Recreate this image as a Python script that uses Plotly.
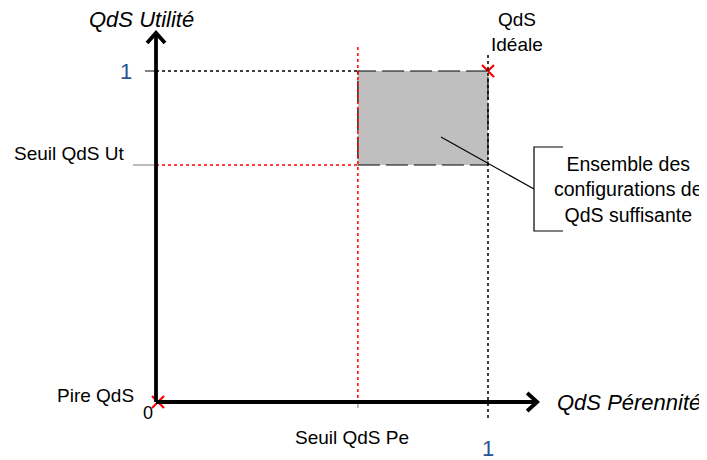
import plotly.graph_objects as go

# --- diagram values (normalised QoS space) ---
seuil_pe = [0.608]          # threshold on "Pérennité" axis
seuil_ut = [0.716]          # threshold on "Utilité" axis
ideal_pt = [1.0, 1.0]       # ideal QoS
worst_pt = [0.0, 0.0]       # worst QoS
axis_len_x = [1.148]
axis_len_y = [1.115]

W, H = 707, 460
OFF = 8                    # page body margin offset
X0, Y0 = 156, 402          # origin pixel (reference)
SX, SY = 332, 331          # px per unit

def X(px):
    return (px - X0) / SX

def Y(py):
    return (Y0 - py) / SY

sp, su = seuil_pe[0], seuil_ut[0]
ax_x, ax_y = axis_len_x[0], axis_len_y[0]

BLUE = "#2A5595"
FONT = "Liberation Sans, Arial, sans-serif"

fig = go.Figure()
shapes = []

def line(x0, y0, x1, y1, color="black", width=1.5, dash="solid"):
    shapes.append(dict(type="line", x0=x0, y0=y0, x1=x1, y1=y1, xref="x", yref="y",
                       line=dict(color=color, width=width, dash=dash)))

# sufficient-QoS rectangle
shapes.append(dict(type="rect", x0=sp, x1=ideal_pt[0], y0=su, y1=ideal_pt[1],
                   xref="x", yref="y", fillcolor="#BFBFBF",
                   line=dict(color="black", width=1.2, dash="22px,6px")))

# guide lines
line(0, ideal_pt[1], sp, ideal_pt[1], "black", 1.5, "dot")
line(ideal_pt[0], Y(55), ideal_pt[0], Y(418), "black", 1.5, "dot")
line(sp, Y(47), sp, 0, "red", 1.5, "dot")
line(0, su, sp, su, "red", 1.5, "dot")

# tick marks
line(X(145), ideal_pt[1], 0, ideal_pt[1], "#404040", 1.3)
line(X(133), su, 0, su, "#A6A6A6", 1.5)
line(sp, 0, sp, Y(408), "#A6A6A6", 1.5)

# leader line + bracket
line(X(441), Y(137), X(534), Y(189), "black", 1.2)
shapes.append(dict(type="path", xref="x", yref="y",
                   path=f"M {X(563)},{Y(147)} L {X(534)},{Y(147)} L {X(534)},{Y(231)} L {X(563)},{Y(231)}",
                   line=dict(color="black", width=1.2)))

# axes
line(0, 0, 0, ax_y, "black", 3.8)
line(0, 0, ax_x, 0, "black", 3.8)

fig.update_layout(shapes=shapes)

# arrow heads (open chevrons)
dx, dy = 9 / SX, 10 / SY
fig.add_trace(go.Scatter(x=[-dx, 0, dx], y=[ax_y - dy, ax_y, ax_y - dy], mode="lines",
                         line=dict(color="black", width=3.8), hoverinfo="skip", showlegend=False))
fig.add_trace(go.Scatter(x=[ax_x - 10 / SX, ax_x, ax_x - 10 / SX], y=[9 / SY, 0, -9 / SY], mode="lines",
                         line=dict(color="black", width=3.8), hoverinfo="skip", showlegend=False))

# red crosses
fig.add_trace(go.Scatter(x=[ideal_pt[0], worst_pt[0] + 2 / SX], y=[ideal_pt[1], worst_pt[1]],
                         mode="markers",
                         marker=dict(symbol="x-thin", size=12, line=dict(color="red", width=2.2)),
                         hoverinfo="skip", showlegend=False))

def txt(x, y, s, size=20, color="black", italic=False, xa="center", ya="middle"):
    fig.add_annotation(x=x, y=y, xref="x", yref="y", text=s, showarrow=False,
                       xanchor=xa, yanchor=ya, align="center",
                       font=dict(family=FONT, size=size, color=color,
                                 style="italic" if italic else "normal"))

txt(X(141), Y(19), "QdS Utilité", 22, italic=True)
txt(X(555), Y(402), "QdS Pérennité", 22, italic=True, xa="left")
txt(X(134), ideal_pt[1], "1", 22, BLUE, xa="right")
txt(ideal_pt[0], Y(448), "1", 22, BLUE)
txt(X(148), Y(413), "0", 18)
txt(X(95), Y(395), "Pire QdS", 19)
txt(X(69), Y(153), "Seuil QdS Ut", 19)
txt(sp - 6 / SX, Y(437), "Seuil QdS Pe", 19)
txt(X(517), Y(32), "QdS<br>Idéale", 19)
txt(X(628), Y(189), "Ensemble des<br>configurations de<br>QdS suffisante", 19.5)

# figure pixel p shows at page pixel p + OFF, so shift the view by OFF
fig.update_layout(
    width=W, height=H,
    margin=dict(l=0, r=0, t=0, b=0),
    paper_bgcolor="white", plot_bgcolor="white",
    xaxis=dict(range=[X(OFF), X(OFF + W)], visible=False, fixedrange=True),
    yaxis=dict(range=[Y(OFF + H), Y(OFF)], visible=False, fixedrange=True),
    showlegend=False,
)

fig.write_html("out.html")
